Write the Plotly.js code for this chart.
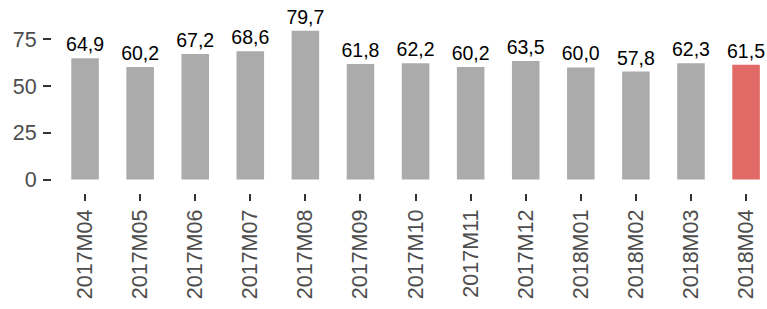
<!DOCTYPE html>
<html>
<head>
<meta charset="utf-8">
<script src="https://cdn.plot.ly/plotly-3.0.1.min.js"></script>
<style>html,body{margin:0;padding:0;overflow:hidden;background:#fff;}</style>
</head>
<body>
<div id="chart" style="width:767px;height:309px;"></div>
<script>
const months = ["2017M04","2017M05","2017M06","2017M07","2017M08","2017M09","2017M10","2017M11","2017M12","2018M01","2018M02","2018M03","2018M04"];
const values = [64.9,60.2,67.2,68.6,79.7,61.8,62.2,60.2,63.5,60.0,57.8,62.3,61.5];
const highlight = "2018M04";
const yTicks = [0,25,50,75];

const colors = months.map(m => m === highlight ? "#E26A66" : "#ABABAB");

const trace = {
  type: "bar",
  x: months,
  y: values,
  width: 0.5,
  marker: {color: colors, line: {width: 0}},
  texttemplate: "%{y:.1f}",
  textposition: "outside",
  constraintext: "none",
  cliponaxis: false,
  textfont: {family: "Liberation Sans, Arial, sans-serif", size: 19.5, color: "#000000"},
  hoverinfo: "none"
};

const layout = {
  width: 767, height: 309,
  margin: {l: 52, r: 0, t: 0, b: 116, pad: 0},
  paper_bgcolor: "#ffffff",
  plot_bgcolor: "#ffffff",
  separators: ",.",
  showlegend: false,
  font: {family: "Liberation Sans, Arial, sans-serif"},
  xaxis: {
    type: "category",
    range: [-0.6, 12.38],
    showgrid: false, zeroline: false, showline: false,
    ticks: "outside", ticklen: 7, tickwidth: 2, tickcolor: "#333333",
    tickangle: -90,
    tickfont: {size: 21.5, color: "#4D4D4D"}
  },
  yaxis: {
    range: [-7.23, 96.1],
    tickvals: yTicks,
    ticktext: yTicks.map(String),
    showgrid: false, zeroline: false, showline: false,
    ticks: "outside", ticklen: 8, tickwidth: 2, tickcolor: "#333333",
    ticklabelstandoff: 2,
    tickfont: {size: 21.5, color: "#4D4D4D"}
  }
};

Plotly.newPlot("chart", [trace], layout, {staticPlot: true, displayModeBar: false});
</script>
</body>
</html>
